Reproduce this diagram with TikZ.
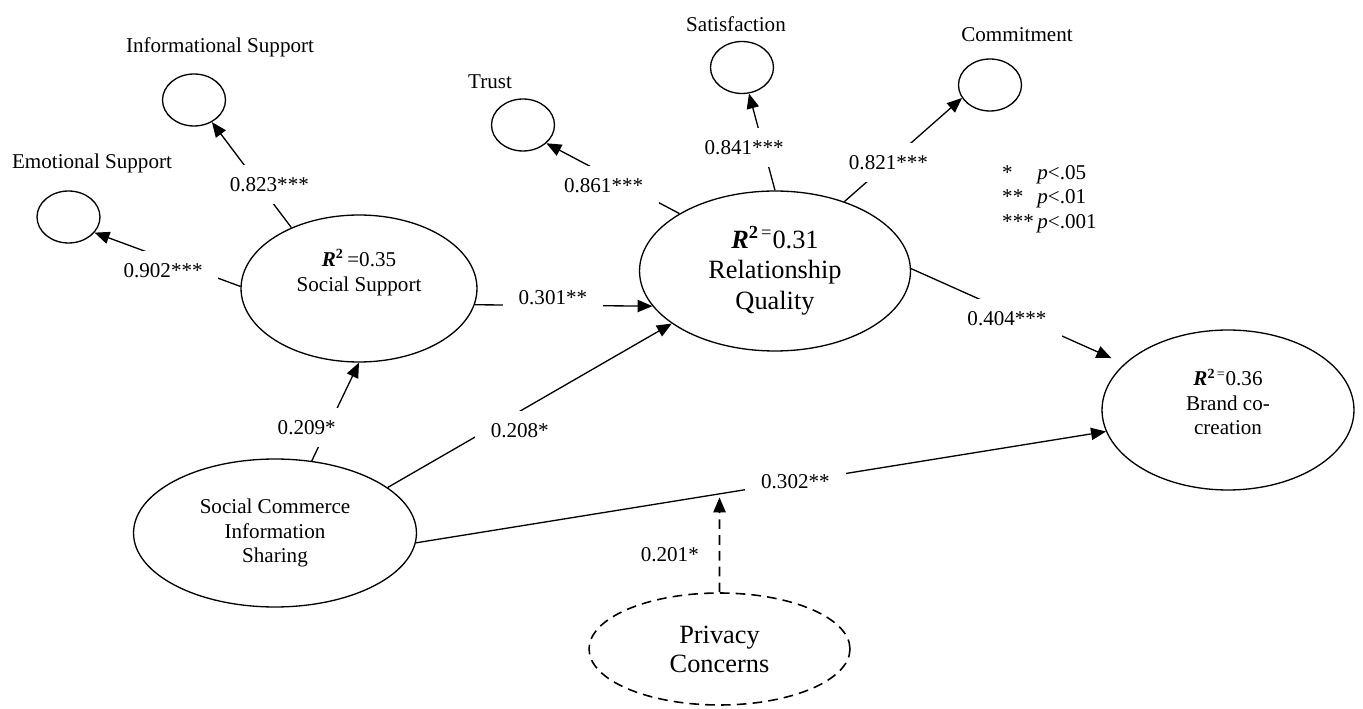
\documentclass[tikz,border=0pt]{standalone}
\usepackage{fontspec}
\setmainfont{Liberation Serif}
\usetikzlibrary{arrows.meta,shapes.geometric}

\begin{document}
\begin{tikzpicture}[x=0.02cm, y=-0.02cm, >={Triangle[length=8.5pt,width=7pt]},
  latent/.style={ellipse, draw, line width=0.75pt, inner sep=0pt, align=center, font=\fontsize{12}{14}\selectfont},
  ind/.style={ellipse, draw, line width=0.75pt, inner sep=0pt, minimum width=1.26cm, minimum height=1.04cm},
  path/.style={->, line width=0.75pt},
  coef/.style={fill=white, inner xsep=9pt, inner ysep=7pt, font=\fontsize{12}{14}\selectfont},
  txt/.style={font=\fontsize{12}{14}\selectfont}]
  \useasboundingbox (0,0) rectangle (1363,709);

  % constructs
  \node[latent, minimum width=4.72cm, minimum height=2.94cm] (ss) at (359,288.5) {};
  \node[txt, align=center] (sstxt) at (359,272.5) {\textbf{\textit{R}}\textsuperscript{\textbf{2}}\,=0.35\\Social Support};
  \node[latent, minimum width=5.42cm, minimum height=3.2cm, font=\fontsize{15}{17.5}\selectfont] (rq) at (775,271)
    {\textbf{\textit{R}}\textsuperscript{\textbf{2}\,=}0.31\\Relationship\\Quality};
  \node[latent, minimum width=5.04cm, minimum height=3.2cm] (bc) at (1228,410) {};
  \node[txt, align=center] (bctxt) at (1228,402) {\textbf{\textit{R}}\textsuperscript{\textbf{2}\,=}0.36\\Brand co-\\creation};
  \node[latent, minimum width=5.66cm, minimum height=2.96cm] (scis) at (275,533) {Social Commerce\\Information\\Sharing};
  \node[latent, dash pattern=on 5.5pt off 3.5pt, line width=0.9pt, minimum width=5.22cm, minimum height=2.24cm,
    font=\fontsize{15}{16.5}\selectfont] (pc) at (719.5,649) {Privacy\\Concerns};

  % indicators
  \node[ind] (info)  at (194,100)  {};
  \node[ind] (emo)   at (68.5,217) {};
  \node[ind] (trust) at (523,125)  {};
  \node[ind] (sat)   at (742,67.5) {};
  \node[ind] (com)   at (990,85)   {};

  \node[txt] (infolab)  at (220,47)  {Informational Support};
  \node[txt] (emolab)   at (92,163)  {Emotional Support};
  \node[txt] (trustlab) at (490,82)  {Trust};
  \node[txt] (satlab)   at (736,24)  {Satisfaction};
  \node[txt] (comlab)   at (1017,35) {Commitment};

  \node[txt, anchor=west] (legend) at (996,199)
    {\begin{tabular}{@{}l@{\hspace{2pt}}l@{}}* & \textit{p}<.05\\{}** & \textit{p}<.01\\{}*** & \textit{p}<.001\end{tabular}};

  % loadings
  \draw[path] (ss.138) -- node[coef, pos=0.41, xshift=6pt] (linfo) {0.823***} (info.-51);
  \draw[path] (ss.179) -- node[coef, pos=0.53, yshift=-7pt] (lemo) {0.902***} (emo.-31);
  \draw[path] (rq.149) -- node[coef, pos=0.57, yshift=-7pt] (ltrust) {0.861***} (trust.-38);
  \draw[path] (rq.90) -- node[coef, pos=0.44, xshift=-11pt] (lsat) {0.841***} (sat.-75);
  \draw[path] (rq.45) -- node[coef, pos=0.375] (lcom) {0.821***} (com.205);

  % structural paths
  \draw[path] (ss.-8) -- node[coef, pos=0.44, yshift=4.5pt] (lssrq) {0.301**} (rq.196);
  \draw[path] (scis.63) -- node[coef, pos=0.34, xshift=-12pt] (lscisss) {0.209*} (ss.south);
  \draw[path] (scis.22) -- node[coef, pos=0.465, yshift=-11pt] (lscisrq) {0.208*} (rq.207);
  \draw[path, shorten >=8pt] (rq.1) -- node[coef, pos=0.45, yshift=-4pt] (lrqbc) {0.404***} (bc.156);
  \draw[path] (scis.-4) -- node[coef, pos=0.55] (lscisbc) {0.302**} coordinate[pos=0.44] (mod) (bc.190);
  \draw[path, dash pattern=on 5.5pt off 3.5pt, line width=0.9pt, shorten >=2pt] (pc.north) -- node[txt, pos=0.38, left=8pt] (lpc) {0.201*} (mod);
\end{tikzpicture}
\end{document}
